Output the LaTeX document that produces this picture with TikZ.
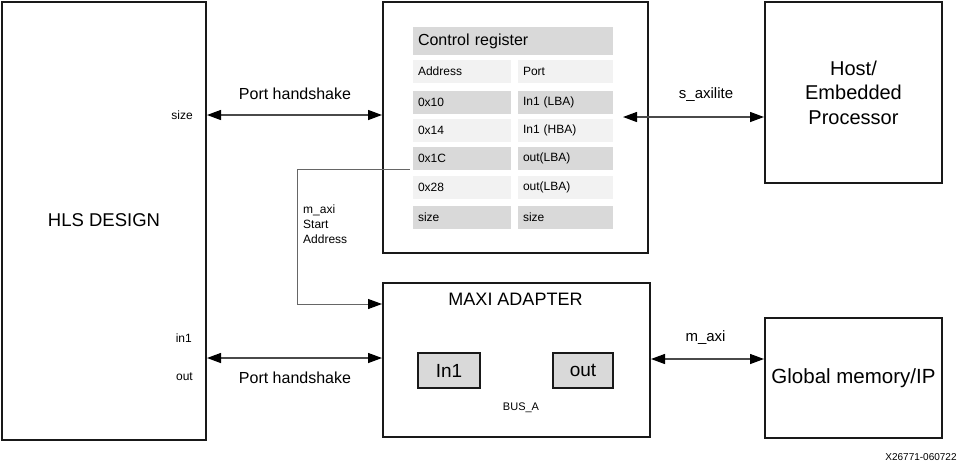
\documentclass[tikz,border=0pt]{standalone}
\usepackage{fontspec}
\setmainfont{Liberation Sans}
\usetikzlibrary{arrows.meta}
\definecolor{dk}{HTML}{D9D9D9}
\definecolor{lt}{HTML}{F2F2F2}
\definecolor{ln}{HTML}{4A4A4A}
\begin{document}
\begin{tikzpicture}[x=1pt,y=-1pt,
  bigbox/.style={draw=black!90, line width=2pt, inner sep=0pt},
  hdr/.style={fill=dk, minimum height=28pt, text width=190pt, inner xsep=5pt, inner ysep=0pt, align=left, font=\fontsize{16}{18}\selectfont},
  cellL/.style={fill=#1, minimum height=23pt, text width=88pt, inner xsep=5pt, inner ysep=0pt, align=left, font=\fontsize{12}{14}\selectfont},
  cellR/.style={fill=#1, minimum height=23pt, text width=85pt, inner xsep=5pt, inner ysep=0pt, align=left, font=\fontsize{12}{14}\selectfont},
  port/.style={draw=black!90, fill=dk, line width=1.5pt, minimum width=#1, minimum height=35pt, inner sep=0pt, font=\fontsize{19}{22}\selectfont},
  arr/.style={draw=ln, line width=1.3pt, -{Triangle[length=14pt,width=10pt,color=black]}},
  darr/.style={draw=ln, line width=1.3pt, {Triangle[length=14pt,width=10pt,color=black]}-{Triangle[length=14pt,width=10pt,color=black]}},
  lbl/.style={inner sep=0pt, font=\fontsize{16}{19}\selectfont},
  sm/.style={inner sep=0pt, font=\fontsize{12}{14}\selectfont}]
\useasboundingbox (0,0) rectangle (965,469);
% main boxes
\node[bigbox, minimum width=204pt, minimum height=438pt] (hls) at (104,221) {};
\node[font=\fontsize{18.5}{22}\selectfont] (hlst) at (104,220) {HLS DESIGN};
\node[bigbox, minimum width=265pt, minimum height=251pt] (ctrl) at (515.5,127.5) {};
\node[bigbox, minimum width=267pt, minimum height=154pt] (maxi) at (516.5,360) {};
\node[bigbox, minimum width=177pt, minimum height=181pt, align=center, font=\fontsize{20}{24.5}\selectfont] (host) at (853.5,92.5) {Host/\\Embedded\\Processor};
\node[bigbox, minimum width=177pt, minimum height=120pt, font=\fontsize{20.5}{24}\selectfont] (gmem) at (853.5,378) {Global memory/IP};
% control register table
\node[hdr] (hdr) at (513,41) {Control register};
\node[cellL=lt] (a0) at (462,71.5) {Address};
\node[cellR=lt] (b0) at (565.5,71.5) {Port};
\node[cellL=dk] (a1) at (462,102) {0x10};
\node[cellR=dk] (b1) at (565.5,102) {In1 (LBA)};
\node[cellL=lt] (a2) at (462,130.5) {0x14};
\node[cellR=lt] (b2) at (565.5,130.5) {In1 (HBA)};
\node[cellL=dk] (a3) at (462,158.5) {0x1C};
\node[cellR=dk] (b3) at (565.5,158.5) {out(LBA)};
\node[cellL=lt] (a4) at (462,187) {0x28};
\node[cellR=lt] (b4) at (565.5,187) {out(LBA)};
\node[cellL=dk] (a5) at (462,217.5) {size};
\node[cellR=dk] (b5) at (565.5,217.5) {size};
% maxi adapter contents
\node[font=\fontsize{18}{21}\selectfont] (mt) at (515.5,299) {MAXI ADAPTER};
\node[port=62pt] (in1) at (449,370.5) {In1};
\node[port=60pt] (outp) at (583,370.5) {out};
\node[inner sep=0pt, font=\fontsize{11}{13}\selectfont] (bus) at (521,408) {BUS\_A};
% side labels
\node[sm, anchor=east] (lsize) at (193,115) {size};
\node[sm, anchor=east] (lin1) at (192,338) {in1};
\node[sm, anchor=east] (lout) at (193,377) {out};
% arrows
\coordinate (yt) at (0,115);
\coordinate (yb) at (0,358);
\coordinate (ys) at (0,117);
\coordinate (ym) at (0,359);
\coordinate (sa) at (623,117);
\draw[darr] (yt -| hls.east) -- (yt -| ctrl.west);
\node[lbl] (ph1) at (295,94) {Port handshake};
\draw[darr] (yb -| hls.east) -- (yb -| maxi.west);
\node[lbl] (ph2) at (295,378) {Port handshake};
\draw[darr] (sa) -- (ys -| host.west);
\node[lbl, font=\fontsize{15}{18}\selectfont] (sax) at (706,95) {s\_axilite};
\draw[darr] (ym -| maxi.east) -- (ym -| gmem.west);
\node[lbl, font=\fontsize{15}{18}\selectfont] (max) at (705.5,338) {m\_axi};
% start address line
\coordinate (c1) at (297,169);
\coordinate (c2) at (297,304);
\draw[arr, line width=1pt, draw=black!60] ([xshift=-3pt]a3.west |- c1) -- (c1) -- (c2) -- (c2 -| maxi.west);
\node[sm, anchor=north west, align=left, font=\fontsize{12}{15}\selectfont] (msa) at (303,205) {m\_axi\\Start\\Address};
\node[inner sep=0pt, font=\fontsize{10}{12}\selectfont] (id) at (921,457) {X26771-060722};
\end{tikzpicture}
\end{document}
